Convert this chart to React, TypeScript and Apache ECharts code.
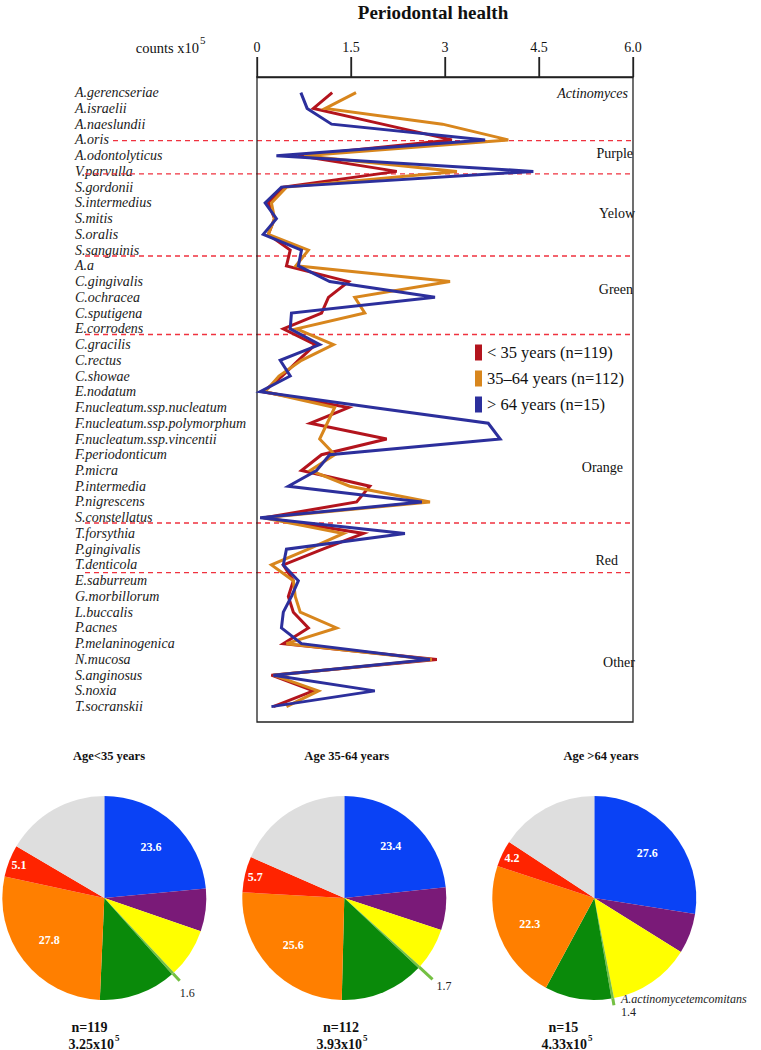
import React, { useEffect, useRef } from "react";
import * as echarts from "echarts";

const SERIF = '"Liberation Serif", "Times New Roman", serif';

const species = [
  "A.gerencseriae", "A.israelii", "A.naeslundii", "A.oris", "A.odontolyticus", "V.parvulla",
  "S.gordonii", "S.intermedius", "S.mitis", "S.oralis", "S.sanguinis",
  "A.a", "C.gingivalis", "C.ochracea", "C.sputigena", "E.corrodens",
  "C.gracilis", "C.rectus", "C.showae", "E.nodatum", "F.nucleatum.ssp.nucleatum",
  "F.nucleatum.ssp.polymorphum", "F.nucleatum.ssp.vincentii", "F.periodonticum", "P.micra",
  "P.intermedia", "P.nigrescens", "S.constellatus",
  "T.forsythia", "P.gingivalis", "T.denticola",
  "E.saburreum", "G.morbillorum", "L.buccalis", "P.acnes", "P.melaninogenica", "N.mucosa",
  "S.anginosus", "S.noxia", "T.socranskii",
];

const seriesNames = ["< 35 years (n=119)", "35\u201364 years (n=112)", "> 64 years (n=15)"];
const seriesColors = ["#b3141d", "#d8861d", "#2c2f9c"];

const under35 = [1.2, 0.9, 2.0, 3.11, 0.65, 2.23, 0.42, 0.18, 0.28, 0.18, 0.53, 0.47, 1.46, 1.14, 1.03, 0.42, 0.93, 0.66, 0.4, 0.1, 1.46, 0.85, 2.07, 1.03, 0.71, 1.8, 1.59, 0.12, 1.7, 1.05, 0.42, 0.58, 0.5, 0.58, 0.82, 0.42, 2.87, 0.23, 0.9, 0.26];
const age35to64 = [1.58, 1.09, 2.96, 4.01, 0.75, 3.19, 0.47, 0.23, 0.28, 0.18, 0.82, 0.62, 3.08, 1.56, 1.72, 0.63, 1.22, 0.71, 0.35, 0.13, 1.24, 1.12, 1.0, 1.24, 0.85, 1.48, 2.76, 0.1, 1.38, 0.82, 0.23, 0.58, 0.61, 0.69, 1.27, 0.47, 2.79, 0.26, 0.98, 0.47];
const over64 = [0.7, 0.8, 1.19, 3.64, 0.31, 4.41, 0.39, 0.13, 0.31, 0.1, 0.71, 0.66, 1.16, 2.84, 0.55, 0.53, 1.0, 0.37, 0.53, 0.05, 1.85, 3.69, 3.88, 1.16, 0.95, 0.5, 2.63, 0.05, 2.36, 0.47, 0.42, 0.66, 0.55, 0.42, 0.39, 0.71, 2.76, 0.26, 1.88, 0.23];

const xTickValues = [0, 1.5, 3, 4.5, 6];
const xTickLabels = ["0", "1.5", "3", "4.5", "6.0"];

const groupLabels = ["Actinomyces", "Purple", "Yelow", "Green", "Orange", "Red", "Other"];

const pieGroups = ["Blue", "Purple", "Yellow", "A.actinomycetemcomitans", "Green", "Orange", "Red", "Other"];
const pieColors = ["#0a42f5", "#7a1a78", "#ffff00", "#74c043", "#0a8a0a", "#ff7f00", "#ff2400", "#dedede"];
const pieUnder35 = [23.6, 6.8, 7.8, 0.4, 12.3, 27.8, 5.1, 16.6];
const pie35to64 = [23.4, 6.8, 6.6, 0.4, 13.4, 25.6, 5.7, 18.5];
const pieOver64 = [27.6, 6.4, 13.1, 0.4, 10.6, 22.3, 4.2, 15.8];
const aaPercent = ["1.6", "1.7", "1.4"];
const pieTitles = ["Age<35 years", "Age 35-64 years", "Age >64 years"];
const pieN = ["n=119", "n=112", "n=15"];
const pieTotals = ["3.25x10", "3.93x10", "4.33x10"];

export default function App() {
  const ref = useRef<HTMLDivElement>(null);

  useEffect(() => {
    if (!ref.current) return;
    const chart = echarts.init(ref.current, undefined, { renderer: "svg" });

    const lineSeries = [under35, age35to64, over64].map((vals, k) => ({
      type: "line",
      name: seriesNames[k],
      xAxisIndex: 0,
      yAxisIndex: 0,
      data: species.map((s, i) => [vals[i], s]),
      symbol: "none",
      lineStyle: { color: seriesColors[k], width: 3, join: "miter" },
      itemStyle: { color: seriesColors[k] },
      z: 3,
      silent: true,
    }));

    const pieCenters: [number, number][] = [[104.3, 898], [344.3, 898], [594.3, 898]];
    const pieData = [pieUnder35, pie35to64, pieOver64];
    const aaLine = [10, 18, 7];
    const aaPad = [[24, 0, 0, 0], [14, 0, 0, 0], [0, 0, 0, 0]];
    const R = 102;

    const pieSeries: any[] = [];
    pieData.forEach((vals, k) => {
      const center = pieCenters[k];
      pieSeries.push({
        type: "pie",
        center,
        radius: [0, R],
        startAngle: 90,
        clockwise: true,
        silent: true,
        avoidLabelOverlap: false,
        emphasis: { disabled: true },
        label: { show: false },
        labelLine: { show: false },
        data: vals.map((v, i) => {
          const item: any = { name: pieGroups[i], value: v, itemStyle: { color: pieColors[i] } };
          if (i === 3) {
            item.label = {
              show: true,
              position: "outside",
              bleedMargin: 0,
              distanceToLabelLine: k === 0 ? 0 : k === 2 ? 7 : 4,
              padding: aaPad[k],
              formatter: k === 2 ? "{it|A.actinomycetemcomitans}\n{n|" + aaPercent[k] + "}" : aaPercent[k],
              fontFamily: SERIF,
              fontSize: 12,
              color: "#222",
              rich: {
                it: { fontFamily: SERIF, fontStyle: "italic", fontSize: 12, color: "#222", lineHeight: 13 },
                n: { fontFamily: SERIF, fontSize: 12, color: "#222", lineHeight: 13 },
              },
            };
            item.labelLine = {
              show: true,
              length: aaLine[k],
              length2: 0,
              smooth: false,
              lineStyle: { color: "#74c043", width: 3 },
            };
          } else {
            item.label = { show: false };
            item.labelLine = { show: false };
          }
          return item;
        }),
      });
      const mkGhost = (r0: number, showIdx: number[]) => ({
        type: "pie",
        center,
        radius: [r0, R],
        startAngle: 90,
        clockwise: true,
        silent: true,
        emphasis: { disabled: true },
        labelLine: { show: false },
        label: {
          show: false,
          position: "inside",
          formatter: "{c}",
          color: "#fff",
          fontFamily: SERIF,
          fontWeight: "bold",
          fontSize: 12,
        },
        itemStyle: { color: "rgba(0,0,0,0)" },
        data: vals.map((v, i) => ({
          name: pieGroups[i],
          value: v,
          itemStyle: { color: "rgba(0,0,0,0)" },
          label: { show: showIdx.indexOf(i) >= 0 },
        })),
        z: 4,
      });
      pieSeries.push(mkGhost(31, [0, 5]));
      pieSeries.push(mkGhost(75, [6]));
    });

    const dashY = [140.7, 173.8, 256, 334.5, 523, 572.7];
    const dashX1 = [113, 85, 85, 85, 85, 85];
    const groupPos = [
      { y: 93.3, x: 628, italic: true },
      { y: 153.3, x: 633 },
      { y: 213.3, x: 635 },
      { y: 289.3, x: 633 },
      { y: 467.3, x: 623 },
      { y: 560, x: 618 },
      { y: 662.7, x: 635 },
    ];

    const BOX_TOP = 77;
    const BOX_BOTTOM = 722;
    const graphic: any[] = [];
    graphic.push({
      type: "rect",
      shape: { x: 257, y: BOX_TOP, width: 376, height: BOX_BOTTOM - BOX_TOP },
      style: { fill: "none", stroke: "#222", lineWidth: 1.3 },
      z: 2,
    });
    graphic.push({
      type: "text",
      x: 433,
      y: 12,
      style: { text: "Periodontal health", fill: "#111", fontFamily: SERIF, fontWeight: "bold", fontSize: 19, align: "center", verticalAlign: "middle" },
    });
    graphic.push({
      type: "text",
      x: 199,
      y: 48,
      style: { text: "counts x10", fill: "#111", fontFamily: SERIF, fontSize: 14.5, align: "right", verticalAlign: "middle" },
    });
    graphic.push({
      type: "text",
      x: 200,
      y: 40,
      style: { text: "5", fill: "#111", fontFamily: SERIF, fontSize: 11, align: "left", verticalAlign: "middle" },
    });
    dashY.forEach((y, i) => {
      graphic.push({
        type: "line",
        shape: { x1: dashX1[i], y1: y, x2: 633, y2: y },
        style: { stroke: "#f0323f", lineWidth: 1.3, lineDash: [5, 4] },
        z: 1,
      });
    });
    groupLabels.forEach((t, i) => {
      const p = groupPos[i];
      graphic.push({
        type: "text",
        x: p.x,
        y: p.y,
        style: { text: t, fill: "#111", fontFamily: SERIF, fontSize: 14, fontStyle: p.italic ? "italic" : "normal", align: "right", verticalAlign: "middle" },
        z: 5,
      });
    });
    const titleX = [109, 346.7, 601];
    const nX = [89.5, 341, 563.3];
    const totEnd = [114, 362, 587];
    pieTitles.forEach((t, k) => {
      graphic.push({
        type: "text",
        x: titleX[k],
        y: 756,
        style: { text: t, fill: "#111", fontFamily: SERIF, fontWeight: "bold", fontSize: 12.5, align: "center", verticalAlign: "middle" },
      });
      graphic.push({
        type: "text",
        x: nX[k],
        y: 1027,
        style: { text: pieN[k], fill: "#111", fontFamily: SERIF, fontWeight: "bold", fontSize: 14, align: "center", verticalAlign: "middle" },
      });
      graphic.push({
        type: "text",
        x: totEnd[k],
        y: 1044,
        style: { text: pieTotals[k], fill: "#111", fontFamily: SERIF, fontWeight: "bold", fontSize: 14, align: "right", verticalAlign: "middle" },
      });
      graphic.push({
        type: "text",
        x: totEnd[k] + 1,
        y: 1038,
        style: { text: "5", fill: "#111", fontFamily: SERIF, fontWeight: "bold", fontSize: 9, align: "left", verticalAlign: "middle" },
      });
    });

    chart.setOption({
      animation: false,
      legend: {
        data: seriesNames,
        orient: "vertical",
        left: 475,
        top: 344,
        padding: 0,
        itemWidth: 7,
        itemHeight: 16,
        itemGap: 9,
        icon: "rect",
        selectedMode: false,
        textStyle: { fontFamily: SERIF, fontSize: 16.5, color: "#111" },
      },
      grid: [{ left: 257, top: 84.8, width: 376, height: 629.7 }],
      xAxis: [
        {
          type: "value",
          position: "top",
          offset: 84.8 - BOX_TOP,
          min: 0,
          max: 6,
          interval: 1.5,
          axisLine: { show: true, onZero: false, lineStyle: { color: "#222", width: 1.3 } },
          axisTick: { show: true, inside: false, length: 20, lineStyle: { color: "#222", width: 1.3 } },
          axisLabel: {
            show: true,
            margin: 23,
            fontFamily: SERIF,
            fontSize: 14,
            color: "#111",
            formatter: (v: number) => xTickLabels[Math.round(v / 1.5)],
          },
          splitLine: { show: false },
        },
      ],
      yAxis: [
        {
          type: "category",
          data: species,
          inverse: true,
          boundaryGap: true,
          axisLine: { show: false },
          axisTick: { show: false },
          splitLine: { show: false },
          axisLabel: {
            interval: 0,
            align: "left",
            margin: 182,
            fontFamily: SERIF,
            fontStyle: "italic",
            fontSize: 14,
            color: "#1a1a1a",
          },
        },
      ],
      series: [...lineSeries, ...pieSeries],
      graphic,
    });

    // Tick marks placed through the library's own x scale
    const tickGraphics = xTickValues.map((v) => {
      const px = chart.convertToPixel({ xAxisIndex: 0 }, v) as number;
      return {
        type: "line",
        shape: { x1: px, y1: BOX_TOP - 20, x2: px, y2: BOX_TOP },
        style: { stroke: "#222", lineWidth: 1.3 },
        z: 2,
      };
    });
    chart.setOption({ graphic: [...graphic, ...tickGraphics] });

    return () => chart.dispose();
  }, []);

  return (
    <div
      ref={ref}
      style={{ position: "absolute", left: 0, top: 0, width: 761, height: 1050, background: "#fff" }}
    />
  );
}
